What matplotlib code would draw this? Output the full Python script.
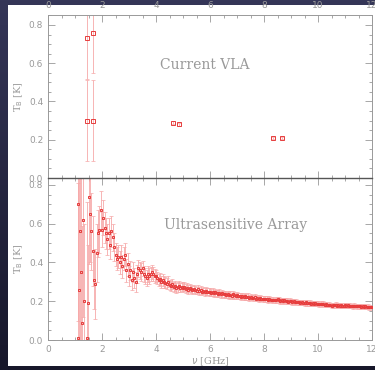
import numpy as np
import matplotlib
matplotlib.use("Agg")
import matplotlib.pyplot as plt
from matplotlib.patches import Rectangle
from matplotlib.colors import LinearSegmentedColormap
from matplotlib.ticker import MultipleLocator

# current VLA measurements
vla_freq = [1.43, 1.67, 1.43, 1.67, 4.63, 4.86, 8.35, 8.66]
vla_tb = [0.73, 0.76, 0.30, 0.30, 0.29, 0.28, 0.21, 0.21]
vla_err = [0.21, 0.21, 0.21, 0.21, 0.01, 0.01, 0.005, 0.005]

# ultrasensitive array, low band
low_freq = [1.10, 1.12, 1.15, 1.18, 1.22, 1.25, 1.30, 1.33, 1.45, 1.47,
            1.50, 1.55, 1.60, 1.65, 1.70, 1.75, 1.80, 1.85, 1.90, 1.95]
low_tb = [0.01, 0.70, 0.26, 0.56, 0.35, 0.09, 0.62, 0.20, 0.01, 0.19,
          0.74, 0.65, 0.56, 0.46, 0.31, 0.29, 0.45, 0.55, 0.57, 0.67]
low_err = [0.80, 0.60, 0.70, 0.60, 0.50, 0.50, 0.50, 0.40, 0.70, 0.30,
           0.35, 0.25, 0.20, 0.18, 0.15, 0.18, 0.15, 0.12, 0.12, 0.10]

# ultrasensitive array, 2-12 GHz (0.05 GHz channels)
usa_freq = [2.00, 2.05, 2.10, 2.15, 2.20, 2.25, 2.30, 2.35, 2.40, 2.45,
            2.50, 2.55, 2.60, 2.65, 2.70, 2.75, 2.80, 2.85, 2.90, 2.95,
            3.00, 3.05, 3.10, 3.15, 3.20, 3.25, 3.30, 3.35, 3.40, 3.45,
            3.50, 3.55, 3.60, 3.65, 3.70, 3.75, 3.80, 3.85, 3.90, 3.95,
            4.00, 4.05, 4.10, 4.15, 4.20, 4.25, 4.30, 4.35, 4.40, 4.45,
            4.50, 4.55, 4.60, 4.65, 4.70, 4.75, 4.80, 4.85, 4.90, 4.95,
            5.00, 5.05, 5.10, 5.15, 5.20, 5.25, 5.30, 5.35, 5.40, 5.45,
            5.50, 5.55, 5.60, 5.65, 5.70, 5.75, 5.80, 5.85, 5.90, 5.95,
            6.00, 6.05, 6.10, 6.15, 6.20, 6.25, 6.30, 6.35, 6.40, 6.45,
            6.50, 6.55, 6.60, 6.65, 6.70, 6.75, 6.80, 6.85, 6.90, 6.95,
            7.00, 7.05, 7.10, 7.15, 7.20, 7.25, 7.30, 7.35, 7.40, 7.45,
            7.50, 7.55, 7.60, 7.65, 7.70, 7.75, 7.80, 7.85, 7.90, 7.95,
            8.00, 8.05, 8.10, 8.15, 8.20, 8.25, 8.30, 8.35, 8.40, 8.45,
            8.50, 8.55, 8.60, 8.65, 8.70, 8.75, 8.80, 8.85, 8.90, 8.95,
            9.00, 9.05, 9.10, 9.15, 9.20, 9.25, 9.30, 9.35, 9.40, 9.45,
            9.50, 9.55, 9.60, 9.65, 9.70, 9.75, 9.80, 9.85, 9.90, 9.95,
            10.00, 10.05, 10.10, 10.15, 10.20, 10.25, 10.30, 10.35, 10.40, 10.45,
            10.50, 10.55, 10.60, 10.65, 10.70, 10.75, 10.80, 10.85, 10.90, 10.95,
            11.00, 11.05, 11.10, 11.15, 11.20, 11.25, 11.30, 11.35, 11.40, 11.45,
            11.50, 11.55, 11.60, 11.65, 11.70, 11.75, 11.80, 11.85, 11.90, 11.95,
            12.00]
usa_tb = [0.57, 0.63, 0.58, 0.55, 0.52, 0.55, 0.49, 0.56, 0.53, 0.48,
          0.44, 0.42, 0.43, 0.40, 0.43, 0.38, 0.42, 0.44, 0.36, 0.39,
          0.33, 0.36, 0.31, 0.35, 0.32, 0.30, 0.34, 0.37, 0.36, 0.35,
          0.37, 0.34, 0.33, 0.32, 0.34, 0.33, 0.34, 0.35, 0.34, 0.33,
          0.33, 0.32, 0.31, 0.315, 0.30, 0.31, 0.30, 0.295, 0.29, 0.30,
          0.285, 0.28, 0.29, 0.275, 0.28, 0.27, 0.275, 0.28, 0.27, 0.275,
          0.27, 0.275, 0.265, 0.27, 0.26, 0.268, 0.262, 0.258, 0.265, 0.26,
          0.255, 0.262, 0.252, 0.258, 0.25, 0.255, 0.248, 0.252, 0.25, 0.246,
          0.25, 0.245, 0.248, 0.24, 0.246, 0.242, 0.238, 0.244, 0.236, 0.24,
          0.235, 0.238, 0.232, 0.236, 0.23, 0.234, 0.228, 0.235, 0.23, 0.228,
          0.232, 0.226, 0.228, 0.224, 0.229, 0.222, 0.225, 0.22, 0.224, 0.218,
          0.222, 0.219, 0.216, 0.22, 0.214, 0.218, 0.212, 0.216, 0.214, 0.21,
          0.214, 0.21, 0.212, 0.207, 0.211, 0.208, 0.204, 0.209, 0.205, 0.207,
          0.21, 0.206, 0.202, 0.205, 0.20, 0.204, 0.201, 0.203, 0.198, 0.201,
          0.20, 0.197, 0.199, 0.195, 0.198, 0.194, 0.196, 0.192, 0.195, 0.193,
          0.19, 0.194, 0.191, 0.189, 0.192, 0.188, 0.19, 0.187, 0.189, 0.186,
          0.188, 0.185, 0.187, 0.184, 0.186, 0.182, 0.185, 0.181, 0.183, 0.18,
          0.178, 0.181, 0.179, 0.182, 0.178, 0.18, 0.177, 0.179, 0.176, 0.178,
          0.18, 0.177, 0.179, 0.175, 0.178, 0.176, 0.174, 0.177, 0.175, 0.173,
          0.176, 0.174, 0.172, 0.175, 0.171, 0.173, 0.17, 0.172, 0.169, 0.171,
          0.168]
usa_err = [0.09, 0.09, 0.08, 0.08, 0.08, 0.08, 0.07, 0.08, 0.07, 0.07,
           0.06, 0.06, 0.06, 0.06, 0.06, 0.06, 0.06, 0.06, 0.06, 0.06,
           0.05, 0.05, 0.05, 0.05, 0.05, 0.05, 0.045, 0.045, 0.045, 0.045,
           0.04, 0.04, 0.04, 0.04, 0.04, 0.04, 0.035, 0.035, 0.035, 0.035,
           0.032, 0.032, 0.032, 0.03, 0.03, 0.03, 0.03, 0.028, 0.028, 0.028,
           0.026, 0.026, 0.026, 0.025, 0.025, 0.025, 0.025, 0.024, 0.024, 0.024,
           0.023, 0.023, 0.023, 0.022, 0.022, 0.022, 0.022, 0.021, 0.021, 0.021,
           0.02, 0.02, 0.02, 0.02, 0.02, 0.02, 0.02, 0.02, 0.02, 0.02,
           0.019, 0.019, 0.019, 0.019, 0.019, 0.018, 0.018, 0.018, 0.018, 0.018,
           0.017, 0.017, 0.017, 0.017, 0.017, 0.017, 0.017, 0.017, 0.017, 0.017,
           0.016, 0.016, 0.016, 0.016, 0.016, 0.016, 0.016, 0.016, 0.016, 0.016,
           0.015, 0.015, 0.015, 0.015, 0.015, 0.015, 0.015, 0.015, 0.015, 0.015,
           0.015, 0.015, 0.015, 0.015, 0.015, 0.014, 0.014, 0.014, 0.014, 0.014,
           0.014, 0.014, 0.014, 0.014, 0.014, 0.014, 0.014, 0.014, 0.014, 0.014,
           0.014, 0.014, 0.014, 0.014, 0.014, 0.013, 0.013, 0.013, 0.013, 0.013,
           0.013, 0.013, 0.013, 0.013, 0.013, 0.013, 0.013, 0.013, 0.013, 0.013,
           0.013, 0.013, 0.013, 0.013, 0.013, 0.012, 0.012, 0.012, 0.012, 0.012,
           0.012, 0.012, 0.012, 0.012, 0.012, 0.012, 0.012, 0.012, 0.012, 0.012,
           0.012, 0.012, 0.012, 0.012, 0.012, 0.012, 0.012, 0.012, 0.012, 0.012,
           0.012, 0.012, 0.012, 0.012, 0.012, 0.012, 0.012, 0.012, 0.012, 0.012,
           0.012]

GRAY = "#999999"
RED = "#e63c3c"
PINK = "#f6a8a8"

fig = plt.figure(figsize=(3.75, 3.70), dpi=100)

# dark slide background with a gradient, white plot card on top
bg = fig.add_axes([0, 0, 1, 1], zorder=-10)
grad = np.linspace(0, 1, 256).reshape(-1, 1)
cmap = LinearSegmentedColormap.from_list("bg", ["#353658", "#17172a"])
bg.imshow(grad, aspect="auto", cmap=cmap, extent=[0, 1, 0, 1])
bg.add_patch(Rectangle((8 / 375, 4 / 370), 1, 1 - 9 / 370,
                       facecolor="white", edgecolor="none"))
bg.set_xlim(0, 1)
bg.set_ylim(0, 1)
bg.axis("off")


def style(ax, ymax):
    ax.set_xlim(0, 12)
    ax.set_ylim(0, ymax)
    ax.xaxis.set_major_locator(MultipleLocator(2))
    ax.xaxis.set_minor_locator(MultipleLocator(0.5))
    ax.yaxis.set_major_locator(MultipleLocator(0.2))
    ax.yaxis.set_minor_locator(MultipleLocator(0.05))
    ax.tick_params(which="both", direction="in", top=True, right=True,
                   colors=GRAY, labelsize=6.5, width=0.6)
    ax.tick_params(which="major", length=5)
    ax.tick_params(which="minor", length=2.5)
    for s in ax.spines.values():
        s.set_color(GRAY)
        s.set_linewidth(0.7)
    ax.set_facecolor("none")
    ax.set_ylabel(r"T$_\mathrm{B}$ [K]", color=GRAY, fontsize=7,
                  family="DejaVu Serif", labelpad=3)


def points(ax, x, y, err, ms):
    ax.errorbar(x, y, yerr=err, fmt="none", ecolor=PINK, elinewidth=0.6,
                capsize=1.5, capthick=0.5, zorder=2)
    ax.plot(x, y, linestyle="none", marker="s", ms=ms, mfc="none",
            mec=RED, mew=0.7, zorder=3)


ax1 = fig.add_axes([48 / 375, 1 - 178 / 370, 324 / 375, 163 / 370])
style(ax1, 0.852)
ax1.tick_params(labeltop=True, labelbottom=False)
points(ax1, vla_freq, vla_tb, vla_err, 2.4)
ax1.text(5.8, 0.59, "Current VLA", color=GRAY, fontsize=10,
         family="DejaVu Serif", ha="center", va="center")

ax2 = fig.add_axes([48 / 375, 1 - 340 / 370, 324 / 375, 162 / 370])
style(ax2, 0.836)
ax2.spines["top"].set_color("#555555")
ax2.spines["top"].set_linewidth(1.0)
points(ax2, low_freq, low_tb, low_err, 1.9)
points(ax2, usa_freq, usa_tb, usa_err, 1.9)
ax2.text(6.96, 0.594, "Ultrasensitive Array", color=GRAY, fontsize=10,
         family="DejaVu Serif", ha="center", va="center")
ax2.set_xlabel(r"$\nu$ [GHz]", color=GRAY, fontsize=7,
               family="DejaVu Serif", labelpad=1)

fig.savefig("out.png", dpi=100, facecolor=fig.get_facecolor())
